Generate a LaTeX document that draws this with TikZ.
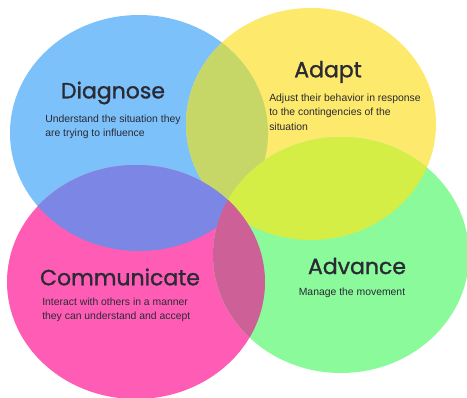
\documentclass[tikz,border=0pt]{standalone}
\usepackage{fontspec}
\setmainfont{Liberation Sans}
\newfontfamily\titlefont{Poppins}[FakeBold=1.2]
\usepackage{tikz}

\definecolor{blueset}{HTML}{7DC1FA}
\definecolor{yellowset}{HTML}{FDE96B}
\definecolor{pinkset}{HTML}{FF5DB5}
\definecolor{greenset}{HTML}{8AFA9B}
\definecolor{blueyellow}{HTML}{C6D768}
\definecolor{bluepink}{HTML}{7C86E5}
\definecolor{yellowgreen}{HTML}{D4EE46}
\definecolor{pinkgreen}{HTML}{CC6097}
\definecolor{inktext}{HTML}{2A2A34}

\def\setDiagnose{(139,133) ellipse [x radius=96.75pt, y radius=88.5pt]}
\def\setAdapt{(311,124) ellipse [x radius=93.75pt, y radius=87pt]}
\def\setCommunicate{(136,282) ellipse [x radius=96.75pt, y radius=87.75pt]}
\def\setAdvance{(341,255) ellipse [x radius=96pt, y radius=88.5pt]}

\begin{document}
\begin{tikzpicture}[x=0.75pt,y=-0.75pt,
    heading/.style={text=inktext, inner sep=0pt, font=\titlefont\fontsize{16.5}{19}\selectfont},
    blurb/.style={text=inktext, inner sep=0pt, font=\fontsize{7.8}{10.6}\selectfont, align=left},
  ]
  \useasboundingbox (0,0) rectangle (467,398);
  \fill[white] (0,0) rectangle (467,398);

  \fill[blueset] \setDiagnose;
  \fill[yellowset] \setAdapt;
  \fill[pinkset] \setCommunicate;
  \fill[greenset] \setAdvance;

  \begin{scope}
    \clip \setDiagnose;
    \fill[blueyellow] \setAdapt;
  \end{scope}
  \begin{scope}
    \clip \setAdapt;
    \fill[yellowgreen] \setAdvance;
  \end{scope}
  \begin{scope}
    \clip \setDiagnose;
    \fill[bluepink] \setCommunicate;
  \end{scope}
  \begin{scope}
    \clip \setCommunicate;
    \fill[pinkgreen] \setAdvance;
  \end{scope}

  \node[heading] (diagnose) at (113,93) {Diagnose};
  \node[blurb, anchor=north west] (diagnosetext) at (45,115)
    {Understand the situation they\\are trying to influence};

  \node[heading] (adapt) at (328,72) {Adapt};
  \node[blurb, anchor=north west] (adapttext) at (269,94)
    {Adjust their behavior in response\\to the contingencies of the\\situation};

  \node[heading] (communicate) at (120,277) {Communicate};
  \node[blurb, anchor=north west] (communicatetext) at (42,298)
    {Interact with others in a manner\\they can understand and accept};

  \node[heading] (advance) at (357,266) {Advance};
  \node[blurb] (advancetext) at (352,293) {Manage the movement};
\end{tikzpicture}
\end{document}
